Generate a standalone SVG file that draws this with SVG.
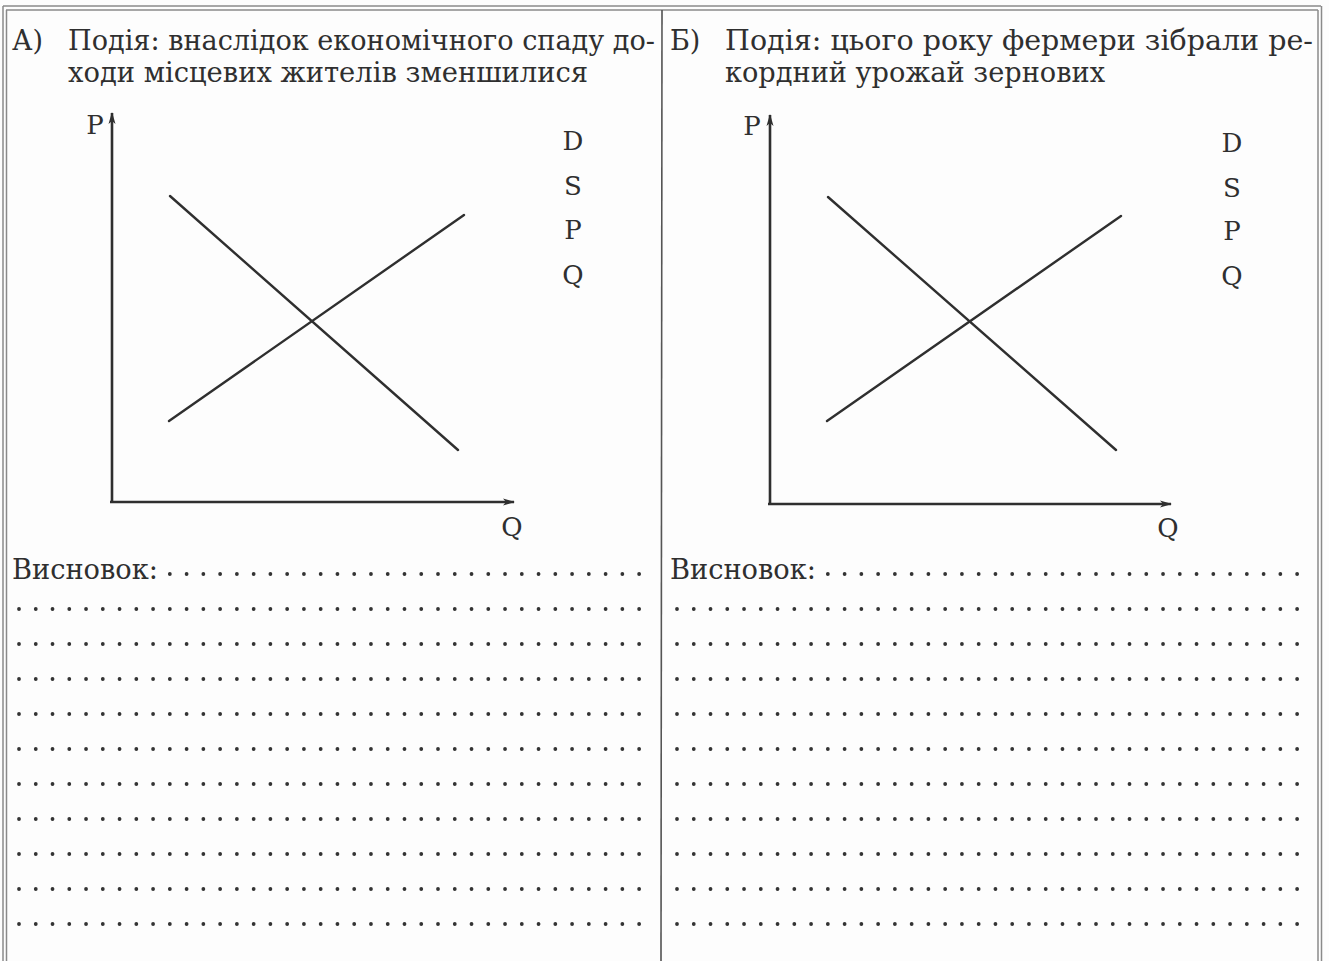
<svg xmlns="http://www.w3.org/2000/svg" width="1329" height="961" viewBox="0 0 1329 961">
<style>
.t{font-family:"DejaVu Serif","Liberation Serif",serif;fill:#2f2f2f}
.h{font-size:27px}
.lb{font-size:26px}
.ax{stroke:#2f2f2f;stroke-width:2.6;fill:none}
.cv{stroke:#2f2f2f;stroke-width:2.4;fill:none;stroke-linecap:round}
.fr{stroke:#8a8a8a;stroke-width:1.5;fill:none}
.dv{stroke:#555;stroke-width:1.6}
.dots{stroke:#333;stroke-width:3.8;stroke-linecap:round;stroke-dasharray:0 16.76;fill:none}
</style>
<defs>
<marker id="arr" viewBox="0 0 12 8" refX="11" refY="4" markerWidth="12" markerHeight="8" markerUnits="userSpaceOnUse" orient="auto">
<path d="M0,0.5 L12,4 L0,7.5 L3,4 Z" fill="#2f2f2f"/>
</marker>
</defs>
<rect width="1329" height="961" fill="#fdfdfd"/>
<g id="frame">
<line class="fr" x1="3" y1="6" x2="1321" y2="6"/>
<line class="fr" x1="6" y1="10" x2="1318" y2="10"/>
<line class="fr" x1="3" y1="6" x2="3" y2="961"/>
<line class="fr" x1="6.5" y1="10" x2="6.5" y2="961"/>
<line class="fr" x1="1318" y1="10" x2="1318" y2="961"/>
<line class="fr" x1="1321.5" y1="6" x2="1321.5" y2="961"/>
<line class="dv" x1="662" y1="10" x2="661" y2="961"/>
</g>
<g id="panel-a">
<text class="t h" x="12" y="50">А)</text>
<text class="t h" x="68" y="50" textLength="587" lengthAdjust="spacingAndGlyphs">Подія: внаслідок економічного спаду до-</text>
<text class="t h" x="68" y="82" textLength="520" lengthAdjust="spacingAndGlyphs">ходи місцевих жителів зменшилися</text>
<g id="chart-a">
<line class="ax" x1="112" y1="502" x2="112" y2="113" marker-end="url(#arr)"/>
<line class="ax" x1="110" y1="502" x2="514" y2="502" marker-end="url(#arr)"/>
<line class="cv" x1="170" y1="196" x2="458" y2="450"/>
<line class="cv" x1="169" y1="421" x2="464" y2="215"/>
<text class="t lb" x="95" y="134" text-anchor="middle">P</text>
<text class="t lb" x="512" y="536" text-anchor="middle">Q</text>
<text class="t lb" x="573" y="150" text-anchor="middle">D</text>
<text class="t lb" x="573" y="195" text-anchor="middle">S</text>
<text class="t lb" x="573" y="239" text-anchor="middle">P</text>
<text class="t lb" x="573" y="284" text-anchor="middle">Q</text>
</g>
<text class="t h" x="12" y="579" textLength="146" lengthAdjust="spacingAndGlyphs">Висновок:</text>
<g id="dots-a">
<line class="dots" x1="169.84" y1="574" x2="640" y2="574"/>
<line class="dots" x1="19" y1="609" x2="640" y2="609"/>
<line class="dots" x1="19" y1="644" x2="640" y2="644"/>
<line class="dots" x1="19" y1="679" x2="640" y2="679"/>
<line class="dots" x1="19" y1="714" x2="640" y2="714"/>
<line class="dots" x1="19" y1="749" x2="640" y2="749"/>
<line class="dots" x1="19" y1="784" x2="640" y2="784"/>
<line class="dots" x1="19" y1="819" x2="640" y2="819"/>
<line class="dots" x1="19" y1="854" x2="640" y2="854"/>
<line class="dots" x1="19" y1="889" x2="640" y2="889"/>
<line class="dots" x1="19" y1="924" x2="640" y2="924"/>
</g>
</g>
<g id="panel-b">
<text class="t h" x="670" y="50">Б)</text>
<text class="t h" x="725" y="50" textLength="588" lengthAdjust="spacingAndGlyphs">Подія: цього року фермери зібрали ре-</text>
<text class="t h" x="725" y="82" textLength="380" lengthAdjust="spacingAndGlyphs">кордний урожай зернових</text>
<g id="chart-b">
<line class="ax" x1="770" y1="504" x2="770" y2="115" marker-end="url(#arr)"/>
<line class="ax" x1="768" y1="504" x2="1171" y2="504" marker-end="url(#arr)"/>
<line class="cv" x1="828" y1="197" x2="1116" y2="450"/>
<line class="cv" x1="827" y1="421" x2="1121" y2="216"/>
<text class="t lb" x="752" y="135" text-anchor="middle">P</text>
<text class="t lb" x="1168" y="537" text-anchor="middle">Q</text>
<text class="t lb" x="1232" y="152" text-anchor="middle">D</text>
<text class="t lb" x="1232" y="197" text-anchor="middle">S</text>
<text class="t lb" x="1232" y="240" text-anchor="middle">P</text>
<text class="t lb" x="1232" y="285" text-anchor="middle">Q</text>
</g>
<text class="t h" x="670" y="579" textLength="146" lengthAdjust="spacingAndGlyphs">Висновок:</text>
<g id="dots-b">
<line class="dots" x1="827.84" y1="574" x2="1299" y2="574"/>
<line class="dots" x1="677" y1="609" x2="1299" y2="609"/>
<line class="dots" x1="677" y1="644" x2="1299" y2="644"/>
<line class="dots" x1="677" y1="679" x2="1299" y2="679"/>
<line class="dots" x1="677" y1="714" x2="1299" y2="714"/>
<line class="dots" x1="677" y1="749" x2="1299" y2="749"/>
<line class="dots" x1="677" y1="784" x2="1299" y2="784"/>
<line class="dots" x1="677" y1="819" x2="1299" y2="819"/>
<line class="dots" x1="677" y1="854" x2="1299" y2="854"/>
<line class="dots" x1="677" y1="889" x2="1299" y2="889"/>
<line class="dots" x1="677" y1="924" x2="1299" y2="924"/>
</g>
</g>
</svg>
